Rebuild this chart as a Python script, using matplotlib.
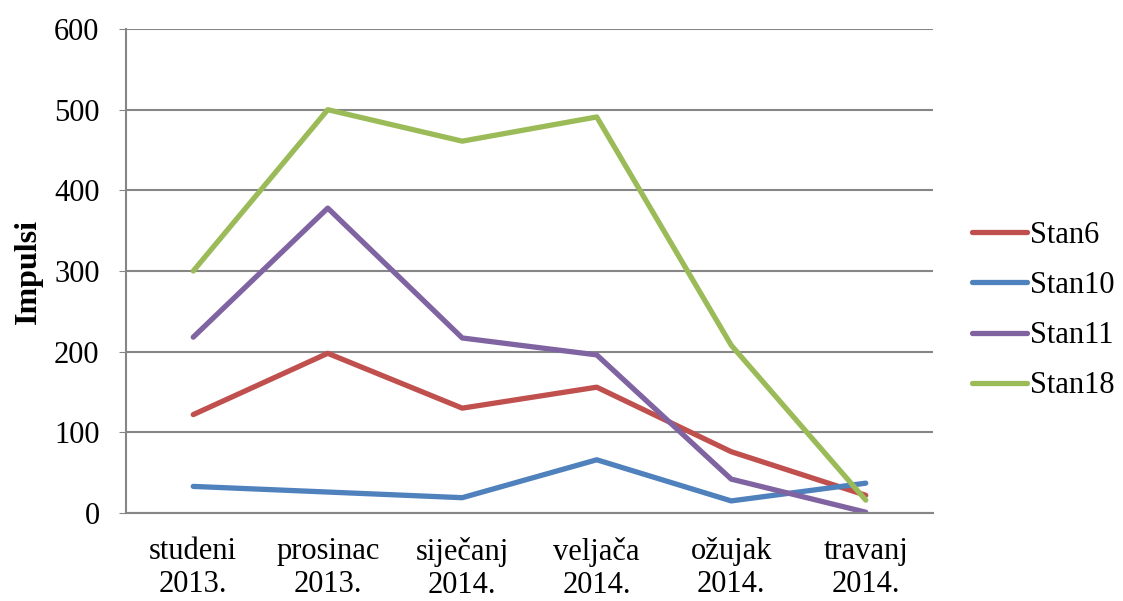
import numpy as np
import matplotlib.pyplot as plt

months = ['studeni\n2013.', 'prosinac\n2013.', 'siječanj\n2014.',
          'veljača\n2014.', 'ožujak\n2014.', 'travanj\n2014.']
stan6 = [122, 198, 130, 156, 76, 22]
stan10 = [33, 26, 19, 66, 15, 37]
stan11 = [218, 378, 217, 196, 42, 1]
stan18 = [300, 500, 461, 491, 208, 16]

plt.rcParams['font.family'] = ['Liberation Serif', 'DejaVu Serif']

fig = plt.figure(figsize=(11.23, 6.01), dpi=100)
ax = fig.add_axes([0.1122, 0.1464, 0.7186, 0.8053])

x = np.arange(len(months))
ax.plot(x, stan6, color='#C0504D', lw=3.8, label='Stan6', solid_capstyle='round')
ax.plot(x, stan10, color='#4F81BD', lw=3.8, label='Stan10', solid_capstyle='round')
ax.plot(x, stan11, color='#8064A2', lw=3.8, label='Stan11', solid_capstyle='round')
ax.plot(x, stan18, color='#9BBB59', lw=3.8, label='Stan18', solid_capstyle='round')

ax.set_xlim(-0.5, len(months) - 0.5)
ax.set_ylim(0, 600)
ax.set_yticks(range(0, 601, 100))
ax.set_xticks(x)
ax.set_xticklabels(months, fontsize=22, linespacing=1.2)
ax.tick_params(axis='y', labelsize=22, length=5, color='#868686', pad=14)
ax.tick_params(axis='x', length=0, pad=17)

ax.grid(axis='y', color='#868686', lw=1.5)
ax.set_axisbelow(True)
for s in ['top', 'right']:
    ax.spines[s].set_visible(False)
for s in ['left', 'bottom']:
    ax.spines[s].set_color('#868686')
    ax.spines[s].set_linewidth(1.5)

ax.set_ylabel('Impulsi', fontsize=23, fontweight='bold', labelpad=8)

ax.legend(loc='center left', bbox_to_anchor=(0.841, 0.483), bbox_transform=fig.transFigure,
          frameon=False, fontsize=22, handlelength=1.8, handletextpad=0.1,
          labelspacing=0.69)

fig.savefig('out.png', dpi=100)
